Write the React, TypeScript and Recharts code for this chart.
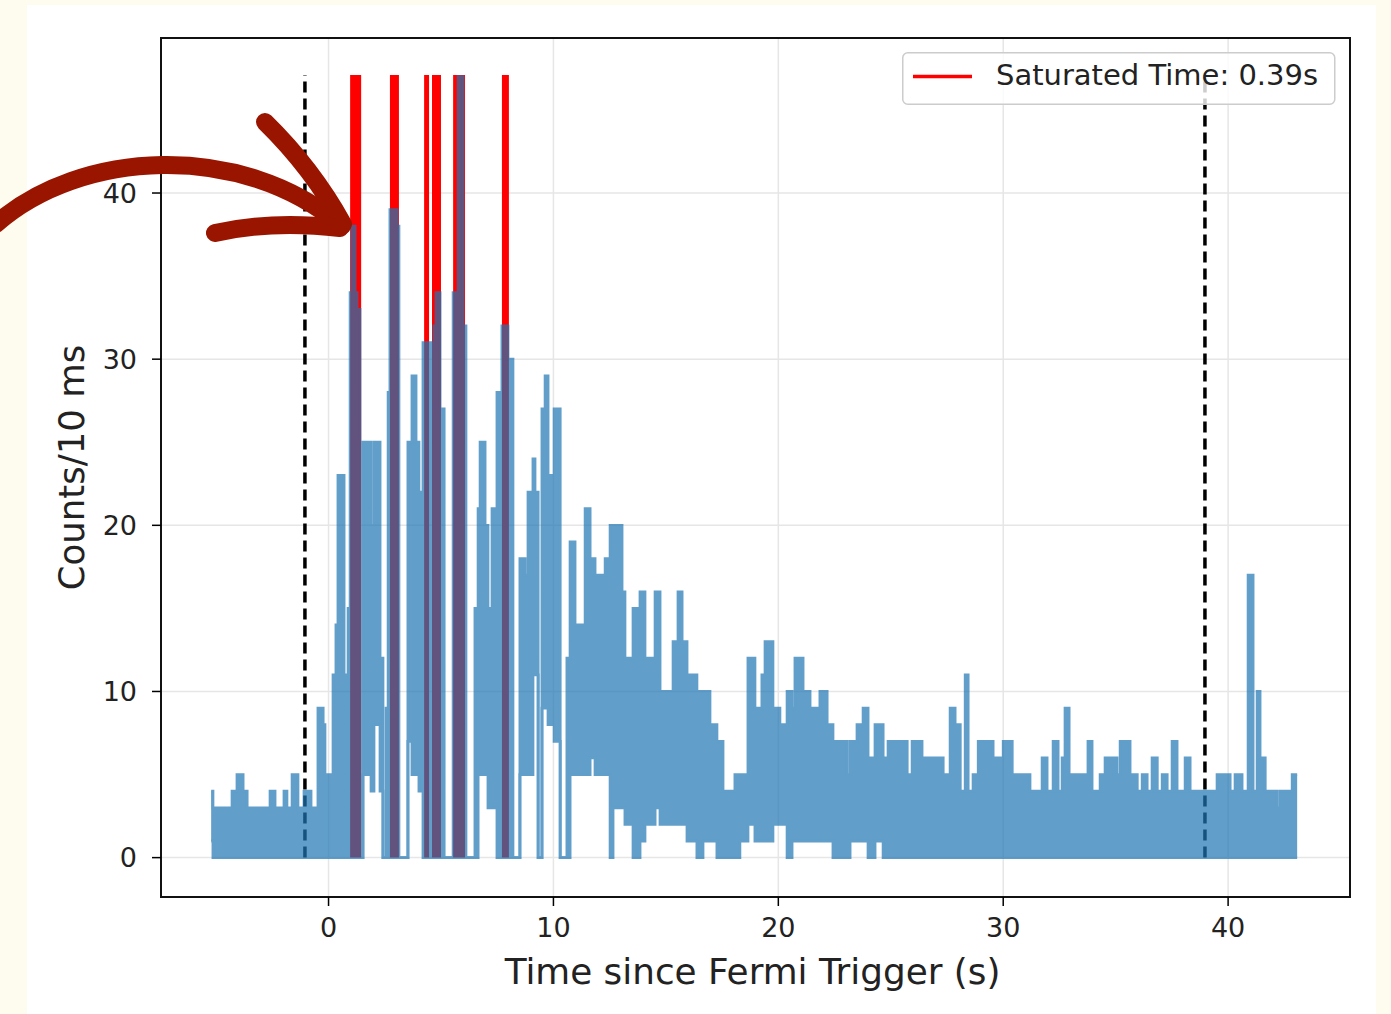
import React from 'react';
import { ComposedChart, Area, XAxis, YAxis, CartesianGrid, ReferenceArea, Legend } from 'recharts';

// Light-curve envelope: start time of each segment (s), upper and lower counts per 10 ms bin
const binStart = [
  -5.22, -5.14, -4.29, -4.07, -3.8, -3.62, -2.6, -2.38, -1.98, -1.85,
  -1.62, -1.36, -1.09, -0.78, -0.47, -0.24, -0.16, -0.07, 0.02, 0.2,
  0.33, 0.42, 0.69, 0.78, 0.87, 0.96, 1.04, 1.18, 1.27, 1.4,
  1.53, 1.89, 2.02, 2.29, 2.42, 2.56, 2.65, 2.73, 3.05, 3.13,
  3.53, 3.71, 3.89, 4.02, 4.2, 4.47, 4.56, 4.69, 4.78, 4.96,
  5.14, 5.54, 5.76, 5.98, 6.11, 6.51, 6.65, 6.74, 6.96, 7.09,
  7.27, 7.49, 7.71, 7.98, 8.2, 8.51, 8.74, 8.87, 9.09, 9.18,
  9.32, 9.49, 9.63, 9.76, 10.03, 10.3, 10.6, 10.74, 10.96, 11.41,
  11.63, 11.85, 12.3, 12.52, 12.65, 13.05, 13.18, 13.54, 13.85, 14.07,
  14.52, 14.74, 15.32, 15.54, 15.72, 15.94, 16.38, 16.65, 16.96, 17.27,
  17.54, 18.07, 18.29, 18.65, 18.96, 19.27, 19.41, 19.76, 20.07, 20.39,
  20.61, 20.74, 21.1, 21.41, 21.85, 22.17, 22.43, 23.06, 23.19, 23.5,
  23.77, 23.99, 24.3, 24.66, 24.88, 25.73, 25.95, 26.39, 27.33, 27.64,
  27.86, 28.09, 28.31, 28.44, 28.66, 28.89, 29.1, 29.55, 30.0, 30.22, 30.4, 31.19, 31.73,
  31.95, 32.22, 32.44, 32.62, 32.75, 32.93, 33.77, 33.95, 34.31, 34.53,
  35.06, 35.2, 35.64, 35.96, 36.18, 36.4, 36.62, 36.85, 37.07, 37.29,
  37.51, 37.73, 38.09, 38.31, 39.51, 40.09, 40.31, 40.62, 40.89, 41.11,
  41.29, 41.42, 41.65, 42.18, 42.31, 42.85,
];
const binHigh = [
  4, 3, 4, 5, 4, 3, 4, 3, 4, 3,
  5, 3, 4, 3, 9, 8, 5, 0, 5, 11,
  14, 23, 11, 0, 15, 34, 38, 34, 33, 0,
  25, 20, 25, 12, 0, 9, 28, 39, 38, 0,
  25, 29, 25, 22, 31, 0, 31, 32, 34, 27,
  0, 34, 47, 32, 0, 15, 21, 25, 20, 15,
  21, 28, 32, 30, 0, 18, 17, 22, 24, 22,
  0, 27, 29, 23, 27, 0, 12, 19, 14, 21,
  18, 17, 18, 20, 20, 16, 12, 15, 16, 12,
  16, 10, 13, 16, 13, 11, 10, 10, 8, 7,
  4, 5, 5, 12, 9, 11, 13, 9, 8, 10,
  9, 12, 10, 9, 10, 8, 7, 5, 7, 8,
  9, 6, 8, 6, 7, 5, 7, 6, 5, 9,
  8, 4, 11, 4, 5, 7, 7, 6, 7, 7, 5, 4, 6,
  4, 7, 4, 6, 9, 5, 7, 4, 5, 6,
  5, 7, 5, 4, 5, 4, 6, 4, 5, 4,
  7, 4, 6, 4, 5, 4, 5, 4, 17, 4,
  10, 6, 4, 3, 4, 5,
];
const binLow = [
  1, 0, 0, 0, 0, 0, 0, 0, 0, 0,
  0, 0, 0, 0, 0, 0, 0, 0, 0, 0,
  0, 0, 0, 0, 0, 0, 0, 0, 0, 0,
  5, 4, 8, 4, 0, 0, 0, 0, 0, 0,
  7, 5, 5, 4, 0, 0, 0, 0, 0, 0,
  0, 0, 0, 0, 0, 0, 5, 5, 5, 3,
  3, 0, 0, 0, 0, 5, 5, 5, 11, 11,
  0, 9, 9, 8, 7, 0, 0, 5, 5, 5,
  6, 5, 5, 0, 3, 3, 2, 0, 1, 2,
  3, 2, 2, 2, 2, 1, 0, 1, 1, 0,
  0, 0, 1, 2, 1, 1, 1, 2, 2, 0,
  1, 1, 1, 1, 1, 1, 0, 0, 1, 1,
  1, 0, 1, 0, 0, 0, 0, 0, 0, 0,
  0, 0, 0, 0, 0, 0, 0, 0, 0, 0, 0, 0, 0,
  0, 0, 0, 0, 0, 0, 0, 0, 0, 0,
  0, 0, 0, 0, 0, 0, 0, 0, 0, 0,
  0, 0, 0, 0, 0, 0, 0, 0, 0, 0,
  0, 0, 0, 0, 0, 0,
];
const binEnd = 43.07;

// Saturated intervals (s)
const satStart = [0.96, 2.73, 4.25, 4.6, 5.54, 7.71];
const satEnd = [1.45, 3.13, 4.47, 5.0, 6.07, 8.02];
const satLevel = 47.1;

// Dashed window boundaries (s)
const windowEdges = [-1.05, 38.97];

const xTicks = [0, 10, 20, 30, 40];
const yTicks = [0, 10, 20, 30, 40];
const X_DOMAIN: [number, number] = [-7.45, 45.42];
const Y_DOMAIN: [number, number] = [-2.37, 49.33];

const legendLabel = 'Saturated Time: 0.39s';
const xLabel = 'Time since Fermi Trigger (s)';
const yLabel = 'Counts/10 ms';

const countsData = binStart.map((t, i) => ({ t, range: [binLow[i], binHigh[i]] }));
countsData.push({ t: binEnd, range: [binLow[binLow.length - 1], binHigh[binHigh.length - 1]] });

const satData = satStart.flatMap((s, i) => [
  { t: s, sat: satLevel },
  { t: satEnd[i], sat: 0 },
]);

const windowData = windowEdges.map((t) => [
  { t, edge: 0 },
  { t, edge: satLevel },
]);

const FONT = '"DejaVu Sans", sans-serif';

const LegendBox = () => (
  <svg width={434} height={54} style={{ display: 'block', overflow: 'visible' }}>
    <rect x={0.75} y={0.75} width={432} height={51.5} rx={5} ry={5}
      fill="rgba(255,255,255,0.8)" stroke="#cccccc" strokeWidth={1.5} />
    <line x1={11} x2={70} y1={24.5} y2={24.5} stroke="#ff0000" strokeWidth={3.5} />
    <text x={94} y={33} fontFamily={FONT} fontSize={29} fill="#222">{legendLabel}</text>
  </svg>
);

export default function App() {
  return (
    <div style={{ position: 'relative', width: 1391, height: 1014, background: '#fdfcee', overflow: 'hidden' }}>
      <style>{`body{margin:0} .blue-series{opacity:0.7}`}</style>
      <div style={{ position: 'absolute', left: 27, top: 5, width: 1349, height: 1009, background: '#ffffff' }} />
      <div style={{ position: 'absolute', left: 0, top: 0 }}>
        <ComposedChart width={1391} height={1014} margin={{ top: 38, right: 41, bottom: 0, left: 0 }}>
          <CartesianGrid stroke="#e6e6e6" strokeWidth={1.5} />
          <XAxis
            type="number"
            dataKey="t"
            domain={X_DOMAIN}
            allowDataOverflow
            ticks={xTicks}
            interval={0}
            height={117}
            axisLine={false}
            tickSize={9}
            tickMargin={12}
            tickLine={{ stroke: '#000', strokeWidth: 1.5 }}
            tick={{ fontSize: 27, fill: '#222', fontFamily: FONT }}
            label={{
              content: (props: any) => {
                const vb = props.viewBox || {};
                return (
                  <text x={vb.x + vb.width / 2 - 3} y={vb.y + 87} textAnchor="middle"
                    fontFamily={FONT} fontSize={35.8} fill="#222">{xLabel}</text>
                );
              },
            }}
          />
          <YAxis
            type="number"
            domain={Y_DOMAIN}
            allowDataOverflow
            ticks={yTicks}
            interval={0}
            width={161}
            axisLine={false}
            tickSize={9}
            tickMargin={15}
            tickLine={{ stroke: '#000', strokeWidth: 1.5 }}
            tick={{ fontSize: 27, fill: '#222', fontFamily: FONT }}
            label={{
              content: (props: any) => {
                const vb = props.viewBox || {};
                const cx = vb.x + 84;
                const cy = vb.y + vb.height / 2;
                return (
                  <text x={cx} y={cy} textAnchor="middle" transform={`rotate(-90 ${cx} ${cy})`}
                    fontFamily={FONT} fontSize={35.5} fill="#222">{yLabel}</text>
                );
              },
            }}
          />
          <Area data={satData} dataKey="sat" type="stepAfter" baseValue={0}
            fill="#ff0000" fillOpacity={1} stroke="none" isAnimationActive={false} />
          {windowData.map((d, i) => (
            <Area key={`w${i}`} data={d} dataKey="edge" type="linear" fill="none"
              stroke="#000" strokeWidth={3.5} strokeDasharray="11 6" isAnimationActive={false} />
          ))}
          <Area className="blue-series" data={countsData} dataKey="range" type="stepAfter"
            fill="#1f77b4" fillOpacity={1} stroke="#1f77b4" strokeWidth={2.8} isAnimationActive={false} />
          <ReferenceArea x1={X_DOMAIN[0]} x2={X_DOMAIN[1]} y1={Y_DOMAIN[0]} y2={Y_DOMAIN[1]}
            ifOverflow="visible" fill="none" fillOpacity={0} stroke="#111" strokeWidth={2} />
          <Legend layout="vertical" align="center" verticalAlign="middle"
            wrapperStyle={{ position: 'absolute', left: 902, top: 52, width: 434, height: 54 }}
            content={() => <LegendBox />} />
        </ComposedChart>
      </div>
      <svg width={1391} height={1014} style={{ position: 'absolute', left: 0, top: 0, pointerEvents: 'none' }}>
        <g fill="none" stroke="#9a1500" strokeWidth={18} strokeLinecap="round" strokeLinejoin="round">
          <path d="M -4 224 C 80 150, 240 140, 342 226" />
          <path d="M 265 122 Q 312 168 343 224" />
          <path d="M 215 233 Q 272 220 340 228" />
        </g>
      </svg>
    </div>
  );
}
